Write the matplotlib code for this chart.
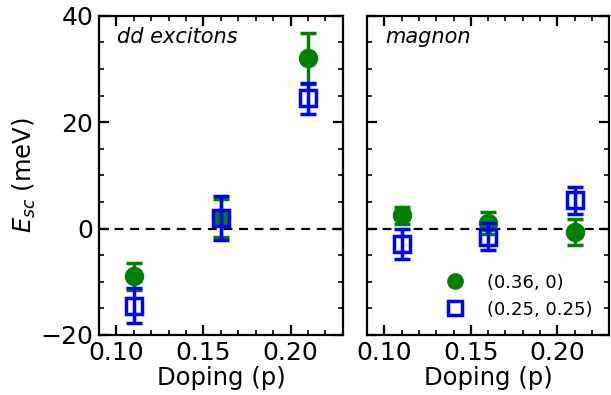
import matplotlib
matplotlib.use("Agg")
import matplotlib.pyplot as plt
from matplotlib.lines import Line2D
from matplotlib.ticker import MultipleLocator

doping = [0.11, 0.16, 0.21]

# dd excitons
dd_q1 = [-9.0, 2.0, 32.0]
dd_q1_err = [2.5, 3.5, 4.8]
dd_q2 = [-14.5, 2.0, 24.5]
dd_q2_err = [3.3, 4.2, 2.9]

# magnon
mag_q1 = [2.5, 1.0, -0.6]
mag_q1_err = [1.6, 2.1, 2.4]
mag_q2 = [-2.9, -1.5, 5.3]
mag_q2_err = [2.9, 2.5, 2.6]

panel_titles = ["dd excitons", "magnon"]
legend_labels = ["(0.36, 0)", "(0.25, 0.25)"]

green = "#008000"
blue = "#0000ff"

fig = plt.figure(figsize=(6.11, 3.95), dpi=100)
ax1 = fig.add_axes([0.162, 0.152, 0.399, 0.808])
ax2 = fig.add_axes([0.601, 0.152, 0.396, 0.808])

panels = [
    (ax1, dd_q1, dd_q1_err, dd_q2, dd_q2_err),
    (ax2, mag_q1, mag_q1_err, mag_q2, mag_q2_err),
]

for i, (ax, y1, e1, y2, e2) in enumerate(panels):
    ax.axhline(0, color="black", linestyle="--", linewidth=1.6, dashes=(4, 3), zorder=1)
    ax.errorbar(doping, y1, yerr=e1, fmt="o", color=green, markersize=13,
                elinewidth=2.5, capsize=6, capthick=2.5, zorder=3)
    ax.errorbar(doping, y2, yerr=e2, fmt="s", color=blue, markerfacecolor="none",
                markeredgecolor=blue, markeredgewidth=2.5, markersize=11.5,
                elinewidth=2.5, capsize=6, capthick=2.5, zorder=4)

    ax.set_xlim(0.09, 0.23)
    ax.set_ylim(-20, 40)
    ax.xaxis.set_major_locator(MultipleLocator(0.05))
    ax.xaxis.set_minor_locator(MultipleLocator(0.01))
    ax.yaxis.set_major_locator(MultipleLocator(20))
    ax.yaxis.set_minor_locator(MultipleLocator(5))
    ax.tick_params(which="both", direction="in", top=True, right=True, labelsize=18)
    ax.tick_params(which="major", length=7, width=1.6, pad=4)
    ax.tick_params(which="minor", length=3.5, width=1.2)
    for s in ax.spines.values():
        s.set_linewidth(1.6)
    ax.set_xticks([0.10, 0.15, 0.20])
    ax.set_xticklabels(["0.10", "0.15", "0.20"])
    ax.set_xlabel("Doping (p)", fontsize=17.5, labelpad=1)
    ax.text(0.075, 0.965, panel_titles[i], transform=ax.transAxes, fontsize=15,
            style="italic", va="top", ha="left")

ax1.set_ylabel("$E_{sc}$ (meV)", fontsize=17.5, labelpad=2)
ax2.tick_params(labelleft=False)

handles = [
    Line2D([], [], marker="o", linestyle="none", color=green, markersize=11),
    Line2D([], [], marker="s", linestyle="none", markerfacecolor="none",
           markeredgecolor=blue, markeredgewidth=2.5, markersize=10),
]
ax2.legend(handles, legend_labels, loc="lower right", frameon=False, fontsize=13,
           numpoints=1, handletextpad=0.8, borderaxespad=0.5)

fig.savefig("out.png", dpi=100)
